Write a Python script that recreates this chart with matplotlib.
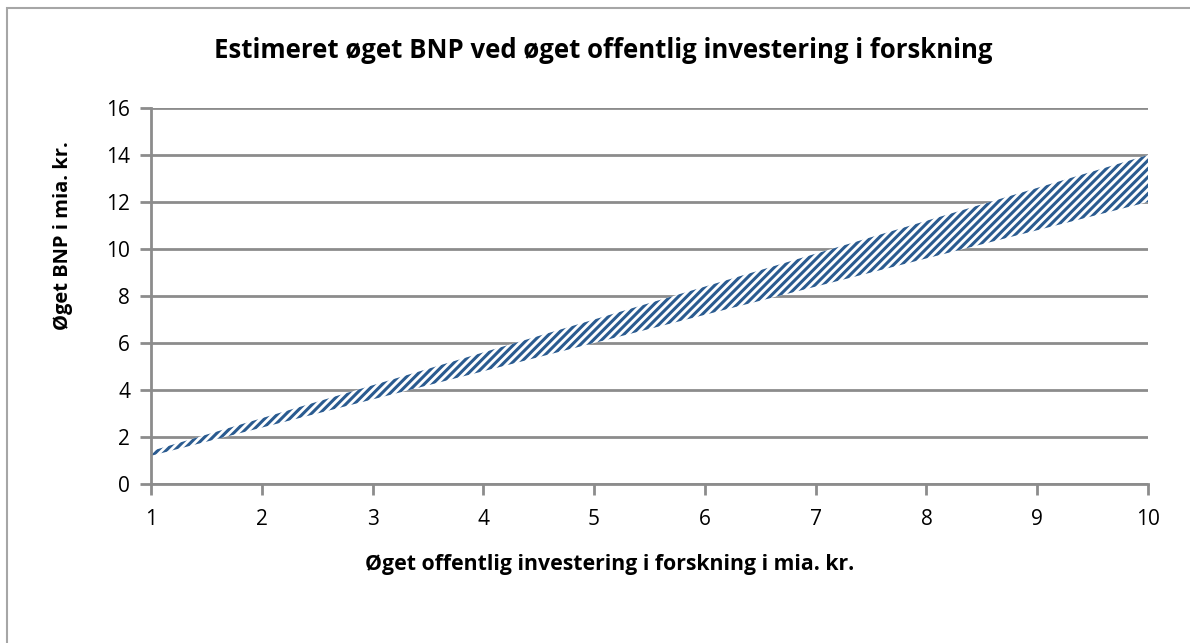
import matplotlib.pyplot as plt
from matplotlib.patches import Rectangle

plt.rcParams['font.family'] = ['Open Sans', 'DejaVu Sans']
plt.rcParams['hatch.color'] = '#2A5B90'
plt.rcParams['hatch.linewidth'] = 2.2

invest = [1, 2, 3, 4, 5, 6, 7, 8, 9, 10]
bnp_low = [1.2, 2.4, 3.6, 4.8, 6.0, 7.2, 8.4, 9.6, 10.8, 12.0]
bnp_high = [1.4, 2.8, 4.2, 5.6, 7.0, 8.4, 9.8, 11.2, 12.6, 14.0]

grey = '#8c8c8c'

fig = plt.figure(figsize=(11.9, 6.43), dpi=100)
# outer chart border (only left and top visible)
fig.patches.append(Rectangle((7 / 1190, -0.1), 1.2, 1.1 - 8 / 643,
                             transform=fig.transFigure, fill=False,
                             edgecolor='#a6a6a6', linewidth=1.5))

ax = fig.add_axes([151 / 1190, 1 - 484 / 643, (1148 - 151) / 1190, (484 - 108) / 643])

ax.fill_between(invest, bnp_low, bnp_high, facecolor='white', hatch='////',
                edgecolor='#2A5B90', linewidth=0)

ax.set_xlim(1, 10)
ax.set_ylim(0, 16)
ax.set_xticks(range(1, 11))
ax.set_yticks(range(0, 17, 2))
ax.yaxis.grid(True, color=grey, linewidth=2)
ax.set_axisbelow(True)
for s in ['top', 'right']:
    ax.spines[s].set_visible(False)
for s in ['left', 'bottom']:
    ax.spines[s].set_color(grey)
    ax.spines[s].set_linewidth(2)
ax.tick_params(axis='both', colors=grey, labelcolor='black', labelsize=15,
               length=8, width=2)
ax.tick_params(axis='y', pad=7)
ax.tick_params(axis='x', pad=10)

fig.text(0.507, 1 - 50 / 643, 'Estimeret øget BNP ved øget offentlig investering i forskning',
         ha='center', va='center', fontsize=18.5, weight='bold')
ax.set_xlabel('Øget offentlig investering i forskning i mia. kr.', fontsize=15.3,
              weight='bold', va='center')
ax.set_ylabel('Øget BNP i mia. kr.', fontsize=14.5, weight='bold', va='center')
ax.xaxis.set_label_coords(0.46, -0.215)
ax.yaxis.set_label_coords(-0.088, 0.66)

fig.savefig('out.png', dpi=100)
